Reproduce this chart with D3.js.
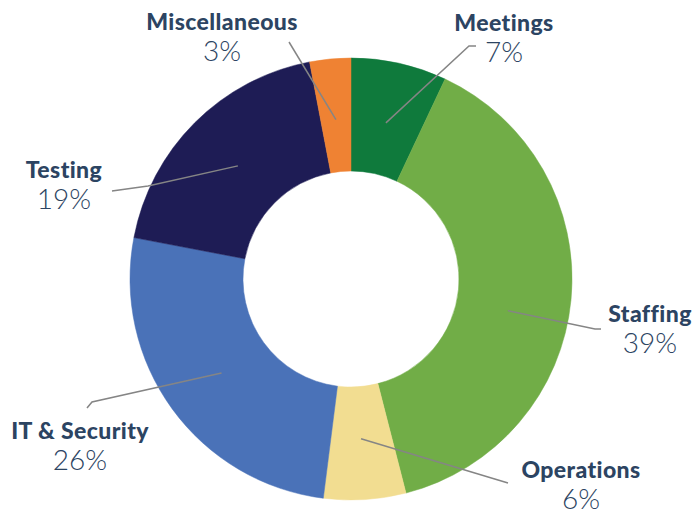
<!DOCTYPE html>
<html>
<head>
<meta charset="utf-8">
<script src="https://cdn.jsdelivr.net/npm/d3@7"></script>
<style>
  body { margin: 0; background: #fff; }
  .name { font-family: Lato, "Open Sans", sans-serif; font-weight: 900; font-size: 23px; letter-spacing: 0.4px; fill: #2c4462; }
  .pct { font-family: Lato, "Open Sans", sans-serif; font-weight: 300; font-size: 28px; fill: #2c4462; }
</style>
</head>
<body>
<div id="chart"></div>
<script>
const categories = ["Meetings", "Staffing", "Operations", "IT & Security", "Testing", "Miscellaneous"];
const values = [7, 39, 6, 26, 19, 3];
const pctLabels = ["7%", "39%", "6%", "26%", "19%", "3%"];
const colors = ["#0f7a3c", "#71ad47", "#f2dd91", "#4a72b8", "#1e1c55", "#ef8233"];

// label anchor (text centre / name baseline), leader elbow points, start angle nudge (deg)
const labelPos = [
  {x: 504, y: 31, line: [[476, 46], [469, 46]], shift: 0},
  {x: 650, y: 322, line: [[601, 329], [595, 329]], shift: 6},
  {x: 581, y: 478, line: [[508, 483]], shift: 0},
  {x: 80, y: 439, line: [[87, 408], [92, 402]], shift: 0},
  {x: 64, y: 178, line: [[112, 191], [148, 186]], shift: 0},
  {x: 222, y: 30, line: [[289, 42]], shift: 0}
];

const dim = {width: 695, height: 510, cx: 351, cy: 279, outer: 221, inner: 108};

const svg = d3.select("#chart").append("svg")
  .attr("width", dim.width)
  .attr("height", dim.height);

const pie = d3.pie().sort(null).value(d => d)(values);
const arc = d3.arc().innerRadius(dim.inner).outerRadius(dim.outer);
const mid = d3.arc().innerRadius(160).outerRadius(160);

const g = svg.append("g").attr("transform", `translate(${dim.cx},${dim.cy})`);

g.selectAll("path.slice")
  .data(pie)
  .join("path")
  .attr("class", "slice")
  .attr("d", arc)
  .attr("fill", (d, i) => colors[i])
  .attr("stroke", (d, i) => colors[i])
  .attr("stroke-width", 0.5);

// leader lines
const line = d3.line();
svg.append("g").selectAll("path")
  .data(pie)
  .join("path")
  .attr("d", (d, i) => {
    const s = labelPos[i].shift * Math.PI / 180;
    const c = mid.centroid({startAngle: d.startAngle + s, endAngle: d.endAngle + s});
    const pts = labelPos[i].line.concat([[c[0] + dim.cx, c[1] + dim.cy]]);
    return line(pts);
  })
  .attr("fill", "none")
  .attr("stroke", "#858585")
  .attr("stroke-width", 1.5);

const labels = svg.append("g").selectAll("g")
  .data(categories)
  .join("g")
  .attr("transform", (d, i) => `translate(${labelPos[i].x},${labelPos[i].y})`);

labels.append("text")
  .attr("class", "name")
  .attr("text-anchor", "middle")
  .text(d => d);

labels.append("text")
  .attr("class", "pct")
  .attr("text-anchor", "middle")
  .attr("y", 31)
  .text((d, i) => pctLabels[i]);
</script>
</body>
</html>
